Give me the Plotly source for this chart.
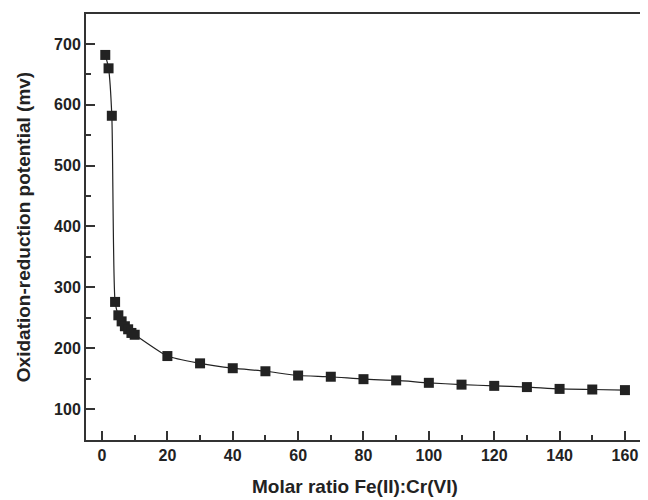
import plotly.graph_objects as go

molar_ratio = [1, 2, 3, 4, 5, 6, 7, 8, 9, 10, 20, 30, 40, 50, 60, 70, 80, 90, 100, 110, 120, 130, 140, 150, 160]
orp_mv = [682, 660, 582, 276, 254, 244, 236, 231, 225, 222, 187, 175, 167, 162, 155, 153, 149, 147, 143, 140, 138, 136, 133, 132, 131]

x_ticks = [0, 20, 40, 60, 80, 100, 120, 140, 160]
y_ticks = [100, 200, 300, 400, 500, 600, 700]

fig = go.Figure()
fig.add_trace(go.Scatter(
    x=molar_ratio, y=orp_mv, mode="lines+markers",
    line=dict(color="#222222", width=1.2, shape="spline", smoothing=0.6),
    marker=dict(symbol="square", size=10, color="#222222"),
    showlegend=False,
))

font_family = "Liberation Sans, Arial, sans-serif"
fig.update_layout(
    width=648, height=500,
    margin=dict(l=78, r=0, t=6, b=68),
    plot_bgcolor="white", paper_bgcolor="white",
    font=dict(family=font_family, size=16, color="#222222"),
)
fig.update_xaxes(
    range=[-4.9, 169.5], tickvals=x_ticks, ticktext=[f"<b>{v}</b>" for v in x_ticks],
    showline=True, linecolor="#333333", linewidth=2, mirror=True,
    ticks="inside", ticklen=9, tickwidth=1.5, tickcolor="#333333",
    minor=dict(dtick=10, tick0=0, ticks="inside", ticklen=5, tickwidth=1.5, tickcolor="#333333"),
    showgrid=False, zeroline=False,
    tickfont=dict(size=16),
)
fig.update_yaxes(
    range=[49, 749.3], tickvals=y_ticks, ticktext=[f"<b>{v}</b>" for v in y_ticks],
    showline=True, linecolor="#333333", linewidth=2, mirror=False,
    ticks="inside", ticklen=9, tickwidth=1.5, tickcolor="#333333",
    minor=dict(dtick=50, tick0=0, ticks="inside", ticklen=5, tickwidth=1.5, tickcolor="#333333"),
    showgrid=False, zeroline=False,
    title=dict(text="<b>Oxidation-reduction potential (mv)</b>", font=dict(size=19), standoff=18),
    tickfont=dict(size=16),
)
fig.add_annotation(
    text="<b>Molar ratio Fe(II):Cr(VI)</b>", xref="paper", yref="paper",
    x=(347 - 78) / 570, y=-(479 - 432) / 426, xanchor="center", yanchor="middle",
    showarrow=False, font=dict(size=19, color="#222222"),
)

fig.write_html("out.html")
